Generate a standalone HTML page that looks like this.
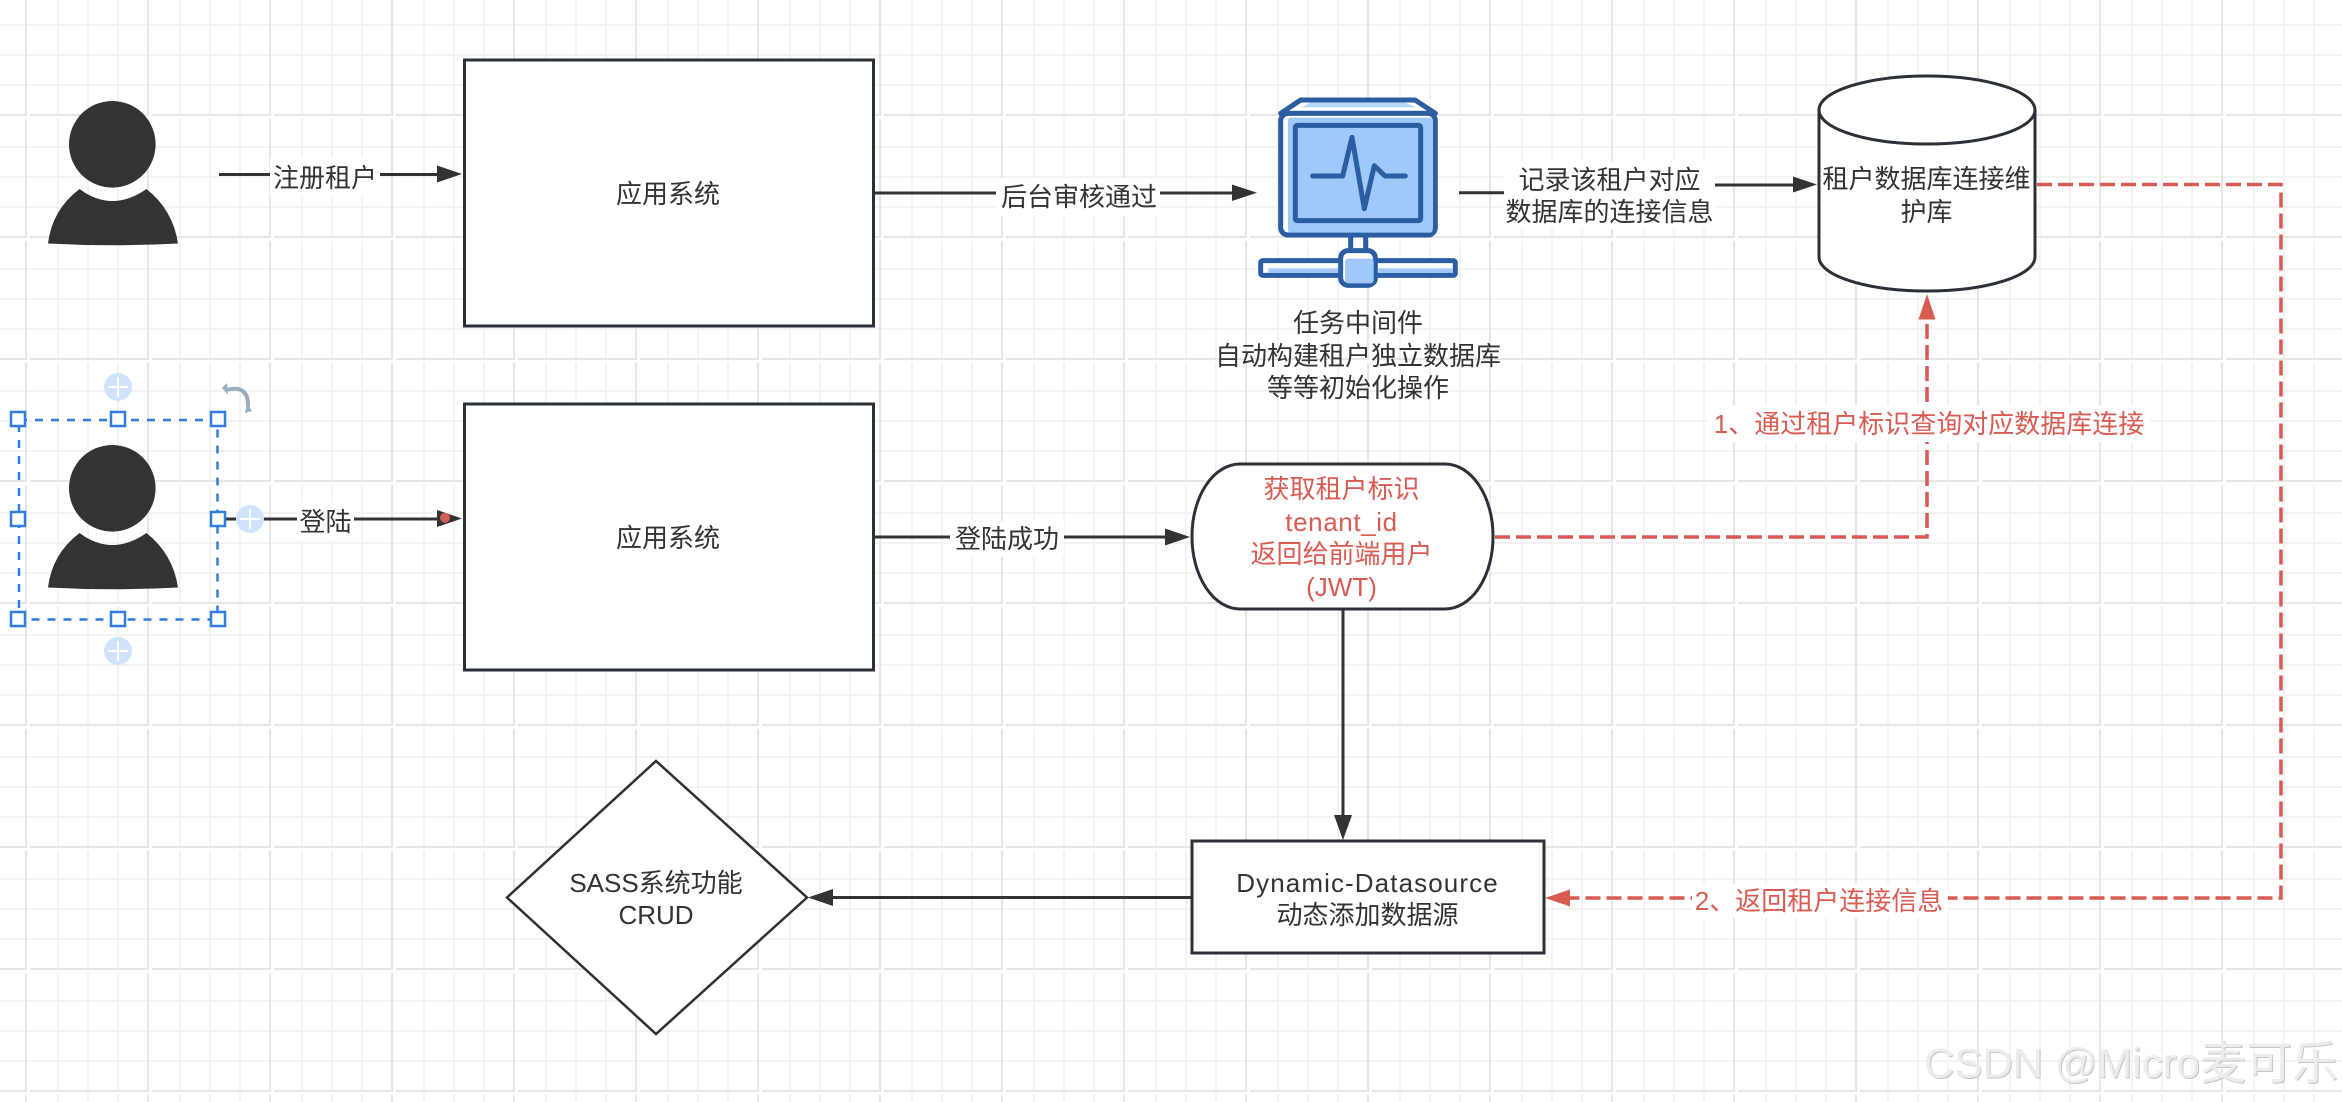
<!DOCTYPE html>
<html><head><meta charset="utf-8">
<style>
html,body{margin:0;padding:0;background:#fff;width:2342px;height:1102px;overflow:hidden}
svg{display:block}
text{font-family:"Liberation Sans","Noto Sans CJK SC",sans-serif;font-size:26px;fill:#333;text-anchor:middle;dominant-baseline:central}
.r{fill:#d95b52}
.s{fill:#fff;stroke:#2b3136;stroke-width:3}
.l{fill:none;stroke:#333;stroke-width:3}
.d{fill:none;stroke:#d95b52;stroke-width:3.5;stroke-dasharray:15 6}
.h{fill:#fff;stroke:#2f7de1;stroke-width:2.5}
</style></head><body>
<svg width="2342" height="1102" viewBox="0 0 2342 1102" xmlns="http://www.w3.org/2000/svg">
<defs>
<pattern id="g" x="25" y="-8" width="122" height="122" patternUnits="userSpaceOnUse">
<g fill="#f3f3f3">
<rect x="32" y="0" width="2" height="122"/><rect x="62" y="0" width="2" height="122"/><rect x="92" y="0" width="2" height="122"/>
<rect x="0" y="32" width="122" height="2"/><rect x="0" y="62" width="122" height="2"/><rect x="0" y="92" width="122" height="2"/>
</g>
<g fill="#e6e6e6"><rect x="0" y="0" width="2" height="122"/><rect x="0" y="0" width="122" height="2"/></g>
<g fill="#fff"><rect x="2" y="0" width="3" height="2"/><rect x="0" y="2" width="2" height="3"/>
<rect x="32" y="2" width="2" height="3"/><rect x="62" y="2" width="2" height="3"/><rect x="92" y="2" width="2" height="3"/></g>
</pattern>
</defs>
<rect width="2342" height="1102" fill="#fff"/>
<rect width="2342" height="1102" fill="url(#g)"/>

<!-- person 1 -->
<g fill="#333">
<circle cx="112.3" cy="144.3" r="43.3"/>
<path d="M48,243.5Q52,210 79.5,189Q112,213 146.5,189Q173,210 178,243.5Q113,247 48,243.5Z"/>
</g>
<!-- person 2 -->
<g fill="#333" transform="translate(0,344)">
<circle cx="112.3" cy="144.3" r="43.3"/>
<path d="M48,243.5Q52,210 79.5,189Q112,213 146.5,189Q173,210 178,243.5Q113,247 48,243.5Z"/>
</g>

<!-- connectors black -->
<path class="l" d="M219,174.5H440"/>
<path fill="#333" d="M437,165.5L462,174L437,182.5Z"/>
<path class="l" d="M225,519H440"/>
<path fill="#333" d="M437,510L462,518.5L437,527Z"/>
<circle cx="445" cy="517.7" r="5" fill="#cf5f58"/>
<path class="l" d="M875,193H1236"/>
<path fill="#333" d="M1232,184.5L1257,192.7L1232,201Z"/>
<path class="l" d="M875,537H1168"/>
<path fill="#333" d="M1165,528.5L1190,537L1165,545.5Z"/>
<path class="l" d="M1459,192.7H1504"/>
<path class="l" d="M1715,185H1796"/>
<path fill="#333" d="M1793,176.5L1817,184.5L1793,192.5Z"/>
<path class="l" d="M1343,609V818"/>
<path fill="#333" d="M1334,815H1352L1343,840Z"/>
<path class="l" d="M1192,897.5H830"/>
<path fill="#333" d="M833,889V906L808,897.5Z"/>

<!-- red connectors -->
<path class="d" d="M1495,537H1927V319"/>
<path fill="#d95b52" d="M1927,294L1935.5,319.5H1918.5Z"/>
<path class="d" d="M2037,184.5H2281V898H1570"/>
<path fill="#d95b52" d="M1545,898L1570,889.5V906.5Z"/>

<!-- label backgrounds -->
<g fill="#fff">
<rect x="270" y="158" width="110" height="38"/>
<rect x="297" y="503" width="57" height="38"/>
<rect x="996" y="178" width="164" height="38"/>
<rect x="950" y="521" width="114" height="36"/>
<rect x="1504" y="161" width="211" height="68"/>
<rect x="1708" y="405" width="442" height="37"/>
<rect x="1692" y="884" width="256" height="34"/>
</g>

<!-- shapes -->
<rect class="s" x="464.5" y="60" width="409" height="266"/>
<rect class="s" x="464.5" y="404" width="409" height="266"/>
<path class="s" d="M1819,110V257A108,34 0 0 0 2035,257V110A108,34 0 0 0 1819,110A108,34 0 0 0 2035,110"/>
<rect class="s" x="1192" y="464" width="301" height="145" rx="48" ry="72"/>
<rect class="s" x="1192" y="841" width="352" height="112"/>
<path class="s" d="M656,761L807,897.5L656,1034L507,897.5Z" style="stroke-width:2.5"/>

<!-- monitor icon -->
<g transform="translate(1230,80) scale(.3333)">
<rect x="362" y="465" width="45" height="50" fill="#fff" stroke="#2b5da3" stroke-width="15"/>
<rect x="92" y="542" width="584" height="44" rx="6" fill="#fff" stroke="#2b5da3" stroke-width="15"/>
<rect x="115" y="565" width="210" height="14" fill="#a0c8f8"/>
<rect x="445" y="565" width="222" height="14" fill="#a0c8f8"/>
<path d="M152,100L212,60H555L616,100Z" fill="#fff" stroke="#2b5da3" stroke-width="15" stroke-linejoin="round"/>
<path d="M215,82L240,68H525L560,82Z" fill="#b9d6fb"/>
<rect x="152" y="100" width="464" height="365" rx="22" fill="#fff" stroke="#2b5da3" stroke-width="15"/>
<rect x="174" y="113" width="434" height="345" rx="8" fill="#a0c8f8"/>
<rect x="196" y="136" width="376" height="286" rx="6" fill="#a0c8f8" stroke="#2b5da3" stroke-width="15"/>
<path d="M248,288H338L366,172L403,386L433,257L465,288H526" fill="none" stroke="#2b5da3" stroke-width="15" stroke-linejoin="round" stroke-linecap="round"/>
<rect x="332" y="512" width="104" height="104" rx="22" fill="#fff" stroke="#2b5da3" stroke-width="15"/>
<rect x="345" y="536" width="86" height="74" rx="10" fill="#a0c8f8"/>
</g>

<!-- selection -->
<rect x="19" y="420" width="198.5" height="199.5" fill="none" stroke="#2f7de1" stroke-width="2.5" stroke-dasharray="8 8"/>
<g>
<rect class="h" x="11" y="412" width="14" height="14"/><rect class="h" x="111" y="412" width="14" height="14"/><rect class="h" x="211" y="412" width="14" height="14"/>
<rect class="h" x="11" y="512" width="14" height="14"/><rect class="h" x="211" y="512" width="14" height="14"/>
<rect class="h" x="11" y="612" width="14" height="14"/><rect class="h" x="111" y="612" width="14" height="14"/><rect class="h" x="211" y="612" width="14" height="14"/>
</g>
<g fill="#cfe3fc"><circle cx="118" cy="387" r="14"/><circle cx="250" cy="519" r="14"/><circle cx="118" cy="651" r="14"/></g>
<path stroke="#fff" stroke-width="2" fill="none" d="M108,387H128M118,377V397M240,519H260M250,509V529M108,651H128M118,641V661"/>
<path fill="none" stroke="#9babc0" stroke-width="4" d="M226,390Q249,384 248,407"/>
<path fill="#9babc0" d="M222,388L227,383L228,395ZM252,411L245,413L247,403Z"/>

<!-- text -->
<text x="325" y="178">注册租户</text>
<text x="325.5" y="522">登陆</text>
<text x="668" y="194">应用系统</text>
<text x="668" y="538">应用系统</text>
<text x="1079" y="197">后台审核通过</text>
<text x="1007" y="539">登陆成功</text>
<text x="1609.5" y="180">记录该租户对应</text>
<text x="1609.5" y="212">数据库的连接信息</text>
<text x="1358" y="323">任务中间件</text>
<text x="1358" y="356">自动构建租户独立数据库</text>
<text x="1358" y="388">等等初始化操作</text>
<text x="1926.5" y="179">租户数据库连接维</text>
<text x="1926.5" y="212">护库</text>
<text class="r" x="1341.5" y="489">获取租户标识</text>
<text class="r" x="1341.5" y="522" style="letter-spacing:.6px">tenant_id</text>
<text class="r" x="1341.5" y="554">返回给前端用户</text>
<text class="r" x="1341.5" y="587">(JWT)</text>
<text class="r" x="1929" y="424">1、通过租户标识查询对应数据库连接</text>
<text class="r" x="1819" y="901">2、返回租户连接信息</text>
<text x="1367.5" y="883" style="letter-spacing:1.1px">Dynamic-Datasource</text>
<text x="1367.5" y="915">动态添加数据源</text>
<text x="656" y="883">SASS系统功能</text>
<text x="656" y="915">CRUD</text>
<text x="2131" y="1063" style="font-size:42px;fill:#ececec;filter:drop-shadow(1px 1px 0 #c6c6c6)">CSDN @Micro<tspan style="font-size:46px">麦可乐</tspan></text>
</svg>
</body></html>
